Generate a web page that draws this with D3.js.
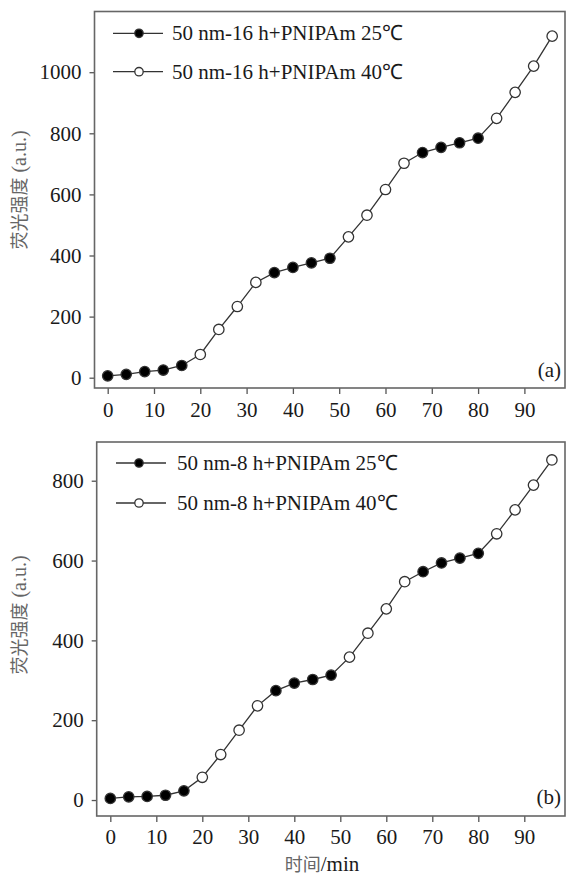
<!DOCTYPE html>
<html><head><meta charset="utf-8">
<script src="https://cdn.jsdelivr.net/npm/d3@7"></script>
<style>body{margin:0;background:#fff}svg{display:block}</style>
</head><body><svg id="c" width="566" height="878"></svg>
<script>
const times = [0,4,8,12,16,20,24,28,32,36,40,44,48,52,56,60,64,68,72,76,80,84,88,92,96];
// temperature state of each measurement: 25 = filled, 40 = open
const temps = [25,25,25,25,25,40,40,40,40,25,25,25,25,40,40,40,40,25,25,25,25,40,40,40,40];
const valuesA = [6,11,20,25,40,76,158,233,312,344,361,376,391,461,532,616,702,737,754,769,784,849,934,1020,1118];
const valuesB = [4,8,9,12,23,57,114,175,236,274,293,302,313,358,418,479,547,572,594,606,618,667,727,789,852];
const xTicks = [0,10,20,30,40,50,60,70,80,90];
const yTicksA = [0,200,400,600,800,1000];
const yTicksB = [0,200,400,600,800];
const legendA = ["50 nm-16 h+PNIPAm 25℃","50 nm-16 h+PNIPAm 40℃"];
const legendB = ["50 nm-8 h+PNIPAm 25℃","50 nm-8 h+PNIPAm 40℃"];
const yTitleCJK = "荧光强度", yTitleUnit = " (a.u.)";
const xTitleCJK = "时间", xTitleUnit = "/min";

const svg = d3.select("#c");
const serif = "'Liberation Serif','Times New Roman',serif";
const cjk = "'Noto Sans CJK SC','Noto Sans',sans-serif";
const ink = "#1a1a1a";
const FS = 21;

function panel(cfg){
  const g = svg.append("g");
  const x = d3.scaleLinear().domain(cfg.xd).range([cfg.l, cfg.r]);
  const y = d3.scaleLinear().domain(cfg.yd).range([cfg.b, cfg.t]);
  const xa = g.append("g").attr("transform",`translate(0,${cfg.b})`)
    .call(d3.axisBottom(x).tickValues(xTicks).tickSize(6).tickPadding(cfg.xpad).tickFormat(d3.format("d")));
  const ya = g.append("g").attr("transform",`translate(${cfg.l},0)`)
    .call(d3.axisLeft(y).tickValues(cfg.yt).tickSize(5).tickPadding(8).tickFormat(d3.format("d")));
  [xa,ya].forEach(a=>{
    a.select(".domain").remove();
    a.selectAll("line").attr("stroke","#555").attr("stroke-width",1.3);
    a.selectAll("text").attr("font-family",serif).attr("font-size",FS).attr("fill",ink);
  });
  g.append("rect").attr("x",cfg.l).attr("y",cfg.t).attr("width",cfg.r-cfg.l).attr("height",cfg.b-cfg.t)
    .attr("fill","none").attr("stroke","#666").attr("stroke-width",1.6);
  const pts = times.map((t,i)=>({t, v:cfg.vals[i], s:temps[i]}));
  g.append("path").datum(pts).attr("fill","none").attr("stroke","#333").attr("stroke-width",1.3)
    .attr("d", d3.line().x(d=>x(d.t)).y(d=>y(d.v)));
  g.selectAll("circle.pt").data(pts).enter().append("circle").attr("class","pt")
    .attr("cx",d=>x(d.t)).attr("cy",d=>y(d.v)).attr("r",5.2)
    .attr("fill",d=>d.s===25?"#000":"#fff").attr("stroke","#333").attr("stroke-width",1.3);
  cfg.leg.forEach((txt,i)=>{
    const ly = cfg.legY[i];
    g.append("line").attr("x1",cfg.legX[0]).attr("x2",cfg.legX[1]).attr("y1",ly).attr("y2",ly)
      .attr("stroke","#333").attr("stroke-width",1.3);
    g.append("circle").attr("cx",cfg.legX[2]).attr("cy",ly).attr("r",4.2)
      .attr("fill",i===0?"#000":"#fff").attr("stroke","#333").attr("stroke-width",1.3);
    g.append("text").attr("x",cfg.legX[3]).attr("y",ly).attr("dy","0.33em")
      .attr("font-family",serif).attr("font-size",FS).attr("fill",ink).text(txt);
  });
  g.append("text").attr("x",cfg.r-4).attr("y",cfg.tagY).attr("text-anchor","end")
    .attr("font-family",serif).attr("font-size",FS).attr("fill",ink).text(cfg.tag);
  const yt = g.append("text").attr("transform",`translate(26,${cfg.yc}) rotate(-90)`)
    .attr("text-anchor","middle").attr("fill","#666");
  yt.append("tspan").attr("font-family",cjk).attr("font-size",18).text(yTitleCJK);
  yt.append("tspan").attr("font-family",serif).attr("font-size",20).text(yTitleUnit);
}

panel({l:94.5,r:565,t:11.5,b:388,xd:[-2.85,98.77],yd:[-33.7,1198.7],yt:yTicksA,vals:valuesA,xpad:8,
  leg:legendA,legX:[113,163,139,172],legY:[33.3,71.7],tag:"(a)",tagY:377,yc:190});
panel({l:96.7,r:565,t:442,b:816,xd:[-2.96,98.85],yd:[-40,897],yt:yTicksB,vals:valuesB,xpad:7,
  leg:legendB,legX:[116,166,139,177],legY:[463,503],tag:"(b)",tagY:804,yc:615});

const xt = svg.append("text").attr("x",322).attr("y",871).attr("text-anchor","middle").attr("fill",ink);
xt.append("tspan").attr("font-family",cjk).attr("font-size",18).attr("fill","#666").text(xTitleCJK);
xt.append("tspan").attr("font-family",serif).attr("font-size",FS).text(xTitleUnit);
</script></body></html>
